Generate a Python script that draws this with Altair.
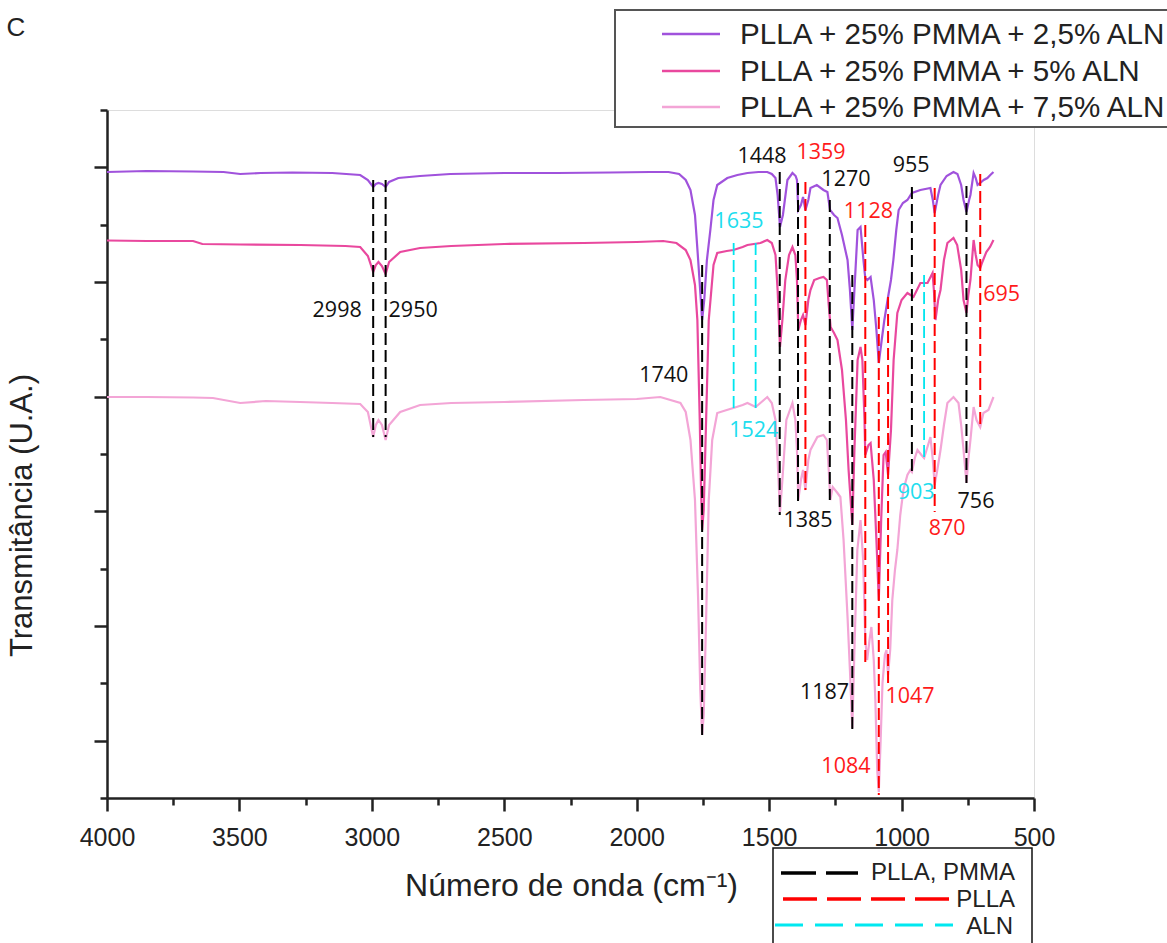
import altair as alt
import pandas as pd

# ---------------- data ----------------
SERIES = ["PLLA + 25% PMMA + 2,5% ALN", "PLLA + 25% PMMA + 5% ALN", "PLLA + 25% PMMA + 7,5% ALN"]
COLORS = ["#A052DC", "#E9489E", "#F3A5D6"]

# (wavenumber cm-1, transmittance a.u.)
PURPLE = [(4000,626),(3850,627),(3675,626.5),(3560,626),(3497,624),(3420,625),(3300,625.5),(3150,625),
          (3044,623),(3015,618),(2995,611),(2985,614),(2975,615),(2962,614),(2948,611),(2935,616),(2900,620),
          (2818,622),(2704,624),(2500,625),(2300,625),(2100,625.5),(1950,626),(1880,626),(1840,624),(1815,618),
          (1797,608),(1780,583),(1768,538),(1753,478),(1745,498),(1735,538),(1722,568),(1710,598),(1696,613),
          (1658,620),(1620,623),(1582,625),(1540,626),(1507,626),(1490,624),(1476,620),(1468,603),(1459,571),
          (1448,583),(1431,618),(1412,625),(1400,622),(1395,618),(1390,588),(1380,593),(1372,601),(1363,588),
          (1352,598),(1344,610),(1320,613),(1295,608),(1280,606),(1270,588),(1255,583),(1242,580),(1225,563),
          (1204,538),(1195,508),(1186,468),(1178,508),(1166,568),(1155,571),(1144,538),(1137,520),(1129,518),
          (1117,521),(1105,498),(1095,468),(1086,435),(1075,458),(1065,478),(1051,501),(1040,518),(1031,538),
          (1020,568),(1011,588),(995,595),(978,598),(961,605),(929,608),(891,610),(882,598),(875,585),(862,603),
          (853,613),(830,622),(804,626),(789,624),(775,613),(766,598),(755,586),(745,598),(740,603),(728,625),
          (720,620),(713,613),(703,615),(690,618),(676,620),(665,623),(653,626)]

PINK = [(4000,557.5),(3850,557),(3675,557),(3640,554),(3497,553.5),(3270,553),(3100,552),(3044,551),(3015,542),
        (2995,526),(2985,533),(2975,536),(2962,532),(2948,524),(2935,536),(2893,546),(2818,550),(2700,552),
        (2500,554),(2200,555),(2000,556),(1900,557),(1850,555),(1815,548),(1797,538),(1780,513),(1771,478),
        (1762,378),(1757,308),(1753,268),(1747,288),(1738,378),(1728,478),(1710,533),(1696,545),(1660,547),
        (1635,548),(1600,551),(1582,553),(1533,555),(1507,558),(1490,555),(1476,543),(1468,508),(1459,451),
        (1450,478),(1439,518),(1425,543),(1412,551),(1401,543),(1395,518),(1390,468),(1380,478),(1372,483),
        (1363,473),(1352,498),(1344,508),(1330,518),(1310,520),(1295,521),(1282,518),(1275,493),(1268,471),
        (1255,465),(1242,458),(1225,428),(1210,378),(1200,328),(1186,273),(1178,348),(1166,438),(1155,451),
        (1148,438),(1140,378),(1137,343),(1125,353),(1117,355),(1105,318),(1095,258),(1086,198),(1077,278),
        (1068,343),(1060,346),(1051,323),(1040,368),(1030,438),(1016,485),(1000,498),(978,505),(955,501),
        (929,515),(902,515),(883,525),(878,508),(872,478),(862,498),(853,508),(840,538),(827,555),(804,560),
        (790,553),(775,528),(766,498),(755,485),(748,503),(740,518),(728,558),(720,543),(713,533),(703,530),
        (695,536),(680,546),(666,551),(653,558)]

LIGHT = [(4000,401),(3850,401),(3675,400.5),(3600,400),(3497,395),(3400,397),(3271,396),(3150,395),(3044,394),
         (3015,386),(2995,361),(2985,373),(2975,378),(2962,373),(2948,358),(2935,373),(2893,386),(2818,393),
         (2700,395),(2500,396),(2200,398),(2000,399),(1911,401),(1835,395),(1815,386),(1797,358),(1780,298),
         (1768,198),(1760,108),(1753,63),(1747,83),(1738,178),(1728,298),(1715,358),(1696,385),(1660,388),
         (1635,390),(1600,393),(1582,395),(1551,391),(1520,398),(1507,401),(1490,395),(1476,378),(1468,338),
         (1459,286),(1450,318),(1435,378),(1412,395),(1401,378),(1395,348),(1390,298),(1380,318),(1372,328),
         (1363,308),(1352,338),(1344,348),(1318,361),(1295,363),(1282,358),(1275,328),(1269,298),(1260,311),
         (1242,305),(1231,301),(1219,258),(1204,181),(1195,128),(1186,70),(1178,148),(1167,248),(1155,278),
         (1145,238),(1137,158),(1130,138),(1121,158),(1114,171),(1105,138),(1099,98),(1092,28),(1086,6),
         (1079,58),(1072,115),(1063,143),(1057,148),(1051,123),(1043,148),(1035,198),(1025,228),(1016,248),
         (1005,283),(993,308),(978,323),(967,328),(961,326),(950,340),(940,348),(925,343),(915,340),(900,353),
         (891,361),(882,338),(875,313),(862,333),(853,348),(840,373),(827,395),(804,401),(785,395),(775,373),
         (766,348),(755,315),(748,338),(740,358),(728,391),(717,378),(703,371),(691,385),(672,388),(653,401)]

# reference lines: (position cm-1, top, bottom)
REF_PLLA_PMMA = [(2995,618,361),(2948,618,361),(1753,533,63),(1460,626,283),(1391,615,293),
                 (1271,598,298),(1186,523,68),(961,611,325),(755,612,315)]
REF_PLLA = [(1363,616,308),(1137,573,136),(1086,481,3),(1051,501,114),(875,610,286),(703,624,371)]
REF_ALN = [(1634,555,388),(1551,555,388),(915,523,336)]

# peak labels: (text, wavenumber, transmittance)
LAB_PLLA_PMMA = [("2998",3131,487),("2950",2844,487),("1740",1898,422),("1448",1527,641),("1270",1210,618),
                 ("955",964,632),("1385",1353,277),("756",719,296),("1187",1291,105)]
LAB_PLLA = [("1359",1304,645),("1128",1125,586),("695",622,503),("870",828,269),("1047",968,101),("1084",1210,31)]
LAB_ALN = [("1635",1614,576),("1524",1558,367),("903",945,305)]

X_TICKS = list(range(500, 4001, 250))
Y_MAX = 688
Y_TICKS = [round(k * Y_MAX / 12, 3) for k in range(13)]

# ---------------- build tables ----------------
rows = []
for name, pts in zip(SERIES, [PURPLE, PINK, LIGHT]):
    for w, v in pts:
        rows.append({"series": name, "w": w, "v": v})
spec = pd.DataFrame(rows)

def ref_df(lst):
    return pd.DataFrame([{"w": w, "top": t, "bot": b} for w, t, b in lst])

def lab_df(lst):
    return pd.DataFrame([{"t": t, "w": w, "v": v} for t, w, v in lst])

W, H = 927, 688
xscale = alt.Scale(domain=[4000, 500], nice=False, zero=False)
yscale = alt.Scale(domain=[0, Y_MAX], nice=False, zero=False)

AX_FONT = "Liberation Sans"

xaxis = alt.Axis(
    values=X_TICKS, format="d", grid=False,
    labelExpr="datum.value % 500 === 0 ? datum.label : ''",
    labelFont=AX_FONT, labelFontSize=25, labelColor="#222", labelPadding=14,
    labelOverlap=False, labelFlush=False,
    tickSize={"condition": {"test": "datum.value % 500 === 0", "value": 13}, "value": 7},
    tickWidth=2.5, tickColor="#222", domainWidth=2.5, domainColor="#222",
    title="Número de onda (cm⁻¹)", titleFont=AX_FONT, titleFontSize=32, titleFontWeight="normal",
    titleColor="#222", titleX=464, titleY=87, titleBaseline="middle", titleAlign="center",
)
yaxis = alt.Axis(
    values=Y_TICKS, labels=False, grid=False,
    tickSize={"condition": {"test": "round(datum.value / 57.3333) % 2 === 1", "value": 13}, "value": 7},
    tickWidth=2.5, tickColor="#222", domainWidth=2.5, domainColor="#222",
    title="Transmitância (U.A.)", titleFont=AX_FONT, titleFontSize=31, titleFontWeight="normal",
    titleColor="#222", titleX=-85, titleY=405, titleAngle=270, titleBaseline="middle", titleAlign="center",
)

lines = alt.Chart(spec).mark_line(strokeWidth=2.2).encode(
    x=alt.X("w:Q", scale=xscale, axis=xaxis),
    y=alt.Y("v:Q", scale=yscale, axis=yaxis),
    color=alt.Color("series:N", scale=alt.Scale(domain=SERIES, range=COLORS), legend=None),
    detail="series:N",
    order="w:Q",
)

def refs(lst, color, dash, width):
    return alt.Chart(ref_df(lst)).mark_rule(color=color, strokeDash=dash, strokeWidth=width).encode(
        x=alt.X("w:Q", scale=xscale), y=alt.Y("top:Q", scale=yscale), y2="bot:Q")

def labels(lst, color):
    return alt.Chart(lab_df(lst)).mark_text(color=color, font="Open Sans", fontSize=21.5,
                                            align="center", baseline="middle").encode(
        x=alt.X("w:Q", scale=xscale), y=alt.Y("v:Q", scale=yscale), text="t:N")

dummy = pd.DataFrame({"a": [0]})

def rect(x, x2, y, y2, stroke, sw):
    return alt.Chart(dummy).mark_rect(fill="white", stroke=stroke, strokeWidth=sw).encode(
        x=alt.value(x), x2=alt.value(x2), y=alt.value(y), y2=alt.value(y2))

def seg(x, x2, y, color, width, dash=None):
    kw = dict(color=color, strokeWidth=width)
    if dash:
        kw["strokeDash"] = dash
    return alt.Chart(dummy).mark_rule(**kw).encode(x=alt.value(x), x2=alt.value(x2), y=alt.value(y))

def txt(s, x, y, size, align, color="#222", font=AX_FONT):
    return alt.Chart(dummy).mark_text(text=s, fontSize=size, font=font, align=align,
                                      baseline="middle", color=color).encode(x=alt.value(x), y=alt.value(y))

# top legend (series)
top_legend = [rect(508, 1080, -100, 17, "#555", 2)]
for i, (name, col) in enumerate(zip(SERIES, COLORS)):
    yy = [-76, -39, -3][i]
    top_legend.append(seg(555, 613, yy, col, 2.5))
    top_legend.append(txt(name, 633, yy + 1, 29.6, "left"))

# bottom legend (band assignments)
bot_legend = [
    rect(666, 925, 738, 860, "#111", 1.5),
    seg(674, 751, 763, "#000000", 3.5, [35, 10]),
    txt("PLLA, PMMA", 908, 763, 24, "right"),
    seg(676, 843, 789, "#FF0000", 3.5, [34, 10]),
    txt("PLLA", 908, 790, 24, "right"),
    seg(668, 846, 815, "#00E8F0", 3, [28, 12]),
    txt("ALN", 906, 817, 24, "right"),
]

panel_letter = txt("C", -91, -82, 26, "center")

chart = alt.layer(
    lines,
    refs(REF_PLLA_PMMA, "#000000", [12, 5], 2),
    refs(REF_PLLA, "#FF0000", [12, 5], 2),
    refs(REF_ALN, "#00E5EE", [12, 5], 1.8),
    labels(LAB_PLLA_PMMA, "#111111"),
    labels(LAB_PLLA, "#FF1A1A"),
    labels(LAB_ALN, "#20DDEE"),
    *top_legend,
    *bot_legend,
    panel_letter,
).properties(
    width=W, height=H,
    autosize=alt.AutoSizeParams(type="none"),
    padding={"left": 107, "top": 110, "right": 133, "bottom": 145},
).configure_view(stroke=None).configure(background="white")

chart.save("out.html", embed_options={"renderer": "svg", "actions": False})
